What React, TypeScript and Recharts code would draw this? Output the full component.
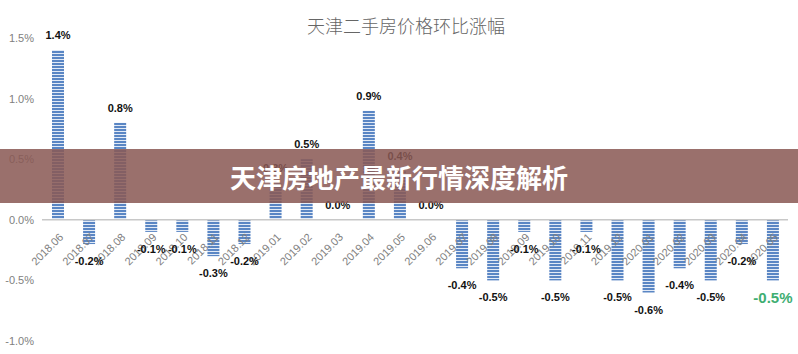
import React from 'react';
import { BarChart, Bar, XAxis, YAxis, ReferenceLine, LabelList } from 'recharts';

const months = [
  '2018.06', '2018.07', '2018.08', '2018.09', '2018.10', '2018.11', '2018.12',
  '2019.01', '2019.02', '2019.03', '2019.04', '2019.05', '2019.06', '2019.07',
  '2019.08', '2019.09', '2019.10', '2019.11', '2019.12', '2020.01', '2020.02',
  '2020.03', '2020.04', '2020.05',
];
const changes = [
  1.4, -0.2, 0.8, -0.1, -0.1, -0.3, -0.2,
  0.3, 0.5, 0.0, 0.9, 0.4, 0.0, -0.4,
  -0.5, -0.1, -0.5, -0.1, -0.5, -0.6, -0.4,
  -0.5, -0.2, -0.5,
];
const yTicks = [-1, -0.5, 0, 0.5, 1, 1.5];
const title = '天津二手房价格环比涨幅';
const bannerText = '天津房地产最新行情深度解析';

const data = months.map((m, i) => ({ month: m, change: changes[i] }));

const fmt = (v: number) => `${v.toFixed(1)}%`;

const MonthLabel = (props: any) => {
  const { x, y, width, height, value } = props;
  const i = months.indexOf(String(value));
  const v = changes[i];
  const top = Math.min(y, y + height);
  const bottom = Math.max(y, y + height);
  const zeroY = v > 0 ? bottom : top;
  const ax = x + width / 2 + 6;
  const ay = zeroY + 18;
  return (
    <text
      x={ax}
      y={ay}
      transform={`rotate(-45 ${ax} ${ay})`}
      textAnchor="end"
      fontSize={11}
      fontFamily="'Liberation Sans', Arial, sans-serif"
      fill="#808080"
    >
      {value}
    </text>
  );
};

const ValueLabel = (props: any) => {
  const { x, y, width, height, value } = props;
  const v = Number(value);
  const top = Math.min(y, y + height);
  const bottom = Math.max(y, y + height);
  const cx = x + width / 2;
  const last = props.index === changes.length - 1 || (x > 700 && v === changes[changes.length - 1] && cx > 760);
  const ly = v >= 0 ? top - 11 : bottom + 21 + (last ? 2 : 0);
  return (
    <text
      x={cx}
      y={ly}
      textAnchor="middle"
      fontSize={last ? 15 : 11}
      fontWeight="bold"
      fontFamily="'Liberation Sans', Arial, sans-serif"
      fill={last ? '#3fae72' : '#111111'}
    >
      {fmt(v)}
    </text>
  );
};

export default function App() {
  return (
    <div style={{ position: 'fixed', left: 0, top: 0, width: 798, height: 354, background: '#ffffff', overflow: 'hidden' }}>
      <div
        style={{
          position: 'absolute',
          left: 0,
          top: 12,
          width: 812,
          textAlign: 'center',
          fontFamily: "'Noto Sans CJK SC', sans-serif",
          fontSize: 18,
          fontWeight: 300,
          color: '#666666',
          lineHeight: '26px',
        }}
      >
        {title}
      </div>
      <BarChart
        width={798}
        height={354}
        data={data}
        margin={{ top: 38, right: 10, bottom: 13, left: 0 }}
      >
        <defs>
          <pattern id="hstripes" width="4" height="3" patternUnits="userSpaceOnUse">
            <rect x="0" y="0" width="4" height="3" fill="#e2eaf6" />
            <rect x="0" y="0" width="4" height="2" fill="#5a86c4" />
          </pattern>
        </defs>
        <XAxis dataKey="month" hide />
        <YAxis
          domain={[-1, 1.5]}
          ticks={yTicks}
          width={42}
          axisLine={false}
          tickLine={false}
          tickFormatter={fmt}
          tick={{ fontSize: 11, fill: '#808080', fontFamily: "'Liberation Sans', Arial, sans-serif" }}
        />
        <ReferenceLine y={0} stroke="#c8c8c8" strokeWidth={1.5} />
        <Bar dataKey="change" fill="url(#hstripes)" barSize={12} minPointSize={0.01} isAnimationActive={false}>
          <LabelList dataKey="month" content={MonthLabel} />
          <LabelList dataKey="change" content={ValueLabel} />
        </Bar>
      </BarChart>
      <div
        style={{
          position: 'absolute',
          left: 0,
          top: 149,
          width: 798,
          height: 54,
          background: 'rgba(137, 88, 84, 0.86)',
          display: 'flex',
          alignItems: 'center',
          justifyContent: 'center',
          color: '#ffffff',
          fontFamily: "'Noto Sans CJK SC', sans-serif",
          fontWeight: 700,
          fontSize: 26,
          letterSpacing: 0,
        }}
      >
        {bannerText}
      </div>
    </div>
  );
}
